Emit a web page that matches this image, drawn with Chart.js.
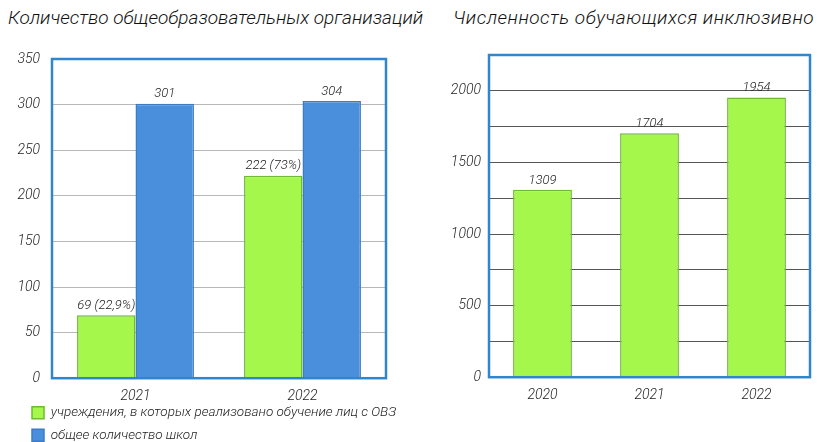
<!DOCTYPE html>
<html>
<head>
<meta charset="utf-8">
<script src="https://cdn.jsdelivr.net/npm/chart.js@4.4.1/dist/chart.umd.min.js"></script>
<style>
  body { margin: 0; background: #fff; width: 817px; height: 442px; overflow: hidden; position: relative; }
  .title { position: absolute; top: 6px; font-family: Roboto, sans-serif; font-style: italic; font-weight: 300; font-size: 19px; color: #111; white-space: nowrap; }
  #c1 { position: absolute; left: 0; top: 0; }
  #c2 { position: absolute; left: 430px; top: 0; }
</style>
</head>
<body>
<div class="title" style="left:8px">Количество общеобразовательных организаций</div>
<div class="title" style="left:453px; letter-spacing:0.5px">Численность обучающихся инклюзивно</div>
<canvas id="c1" width="400" height="442"></canvas>
<canvas id="c2" width="387" height="442"></canvas>
<script>
// данные
const years1 = ['2021', '2022'];
const ovzSchools = [69, 222];
const allSchools = [301, 304];
const ovzLabels = ['69 (22,9%)', '222 (73%)'];
const allLabels = ['301', '304'];

const years2 = ['2020', '2021', '2022'];
const inclusive = [1309, 1704, 1954];
const inclusiveLabels = ['1309', '1704', '1954'];

const FONT = 'Roboto, sans-serif';
const GREEN = '#a6f74c', GREEN_B = '#6cbc2e';
const BLUE = '#4a8fdb', BLUE_B = '#3b7cca';

// подписи над столбцами + рамка области графика
const barLabels = {
  id: 'barLabels',
  afterDatasetsDraw(chart) {
    const ctx = chart.ctx;
    ctx.save();
    ctx.font = 'italic 300 13px ' + FONT;
    ctx.fillStyle = '#222';
    ctx.textAlign = 'center';
    ctx.textBaseline = 'bottom';
    chart.data.datasets.forEach((ds, i) => {
      chart.getDatasetMeta(i).data.forEach((bar, j) => {
        ctx.fillText(ds.valueLabels[j], bar.x, bar.y - 3);
      });
    });
    const a = chart.chartArea;
    ctx.strokeStyle = '#2f86cc';
    ctx.lineWidth = 2.5;
    ctx.strokeRect(a.left, a.top, a.right - a.left, a.bottom - a.top);
    ctx.restore();
  }
};

// сдвиг легенды (вправо и вверх), как на картинке
const legendShift = {
  id: 'legendShift',
  afterLayout(chart) {
    const lg = chart.legend;
    if (lg) {
      lg.left += 23;
      lg.right += 23;
      lg.top -= 10;
      lg.bottom -= 10;
    }
  }
};

const tickFont = { family: FONT, style: 'italic', weight: 300, size: 14 };

new Chart(document.getElementById('c1'), {
  type: 'bar',
  data: {
    labels: years1,
    datasets: [{
      label: 'учреждения, в которых реализовано обучение лиц с ОВЗ',
      data: ovzSchools,
      valueLabels: ovzLabels,
      backgroundColor: GREEN,
      borderColor: GREEN_B,
      borderWidth: 1.5,
      categoryPercentage: 0.7,
      barPercentage: 1.0
    }, {
      label: 'общее количество школ',
      data: allSchools,
      valueLabels: allLabels,
      backgroundColor: BLUE,
      borderColor: BLUE_B,
      borderWidth: 1.5,
      categoryPercentage: 0.7,
      barPercentage: 1.0
    }]
  },
  options: {
    responsive: false,
    animation: false,
    layout: { padding: { top: 59, left: 0, right: 14, bottom: -20 } },
    plugins: {
      title: { display: false },
      tooltip: { enabled: false },
      legend: {
        position: 'bottom',
        align: 'start',
        labels: {
          boxWidth: 12, boxHeight: 12, padding: 9, color: '#222',
          font: { family: FONT, style: 'italic', weight: 300, size: 13.5 }
        }
      }
    },
    scales: {
      x: {
        grid: { display: false },
        border: { display: false },
        ticks: { color: '#222', font: tickFont, padding: 2 }
      },
      y: {
        min: 0, max: 350,
        afterFit(s) { s.width = 52; },
        border: { display: false },
        grid: { color: '#b8b8b8', drawTicks: false },
        ticks: { stepSize: 50, color: '#222', font: tickFont, padding: 12 }
      }
    }
  },
  plugins: [barLabels, legendShift]
});

new Chart(document.getElementById('c2'), {
  type: 'bar',
  data: {
    labels: years2,
    datasets: [{
      label: 'Численность обучающихся инклюзивно',
      data: inclusive,
      valueLabels: inclusiveLabels,
      backgroundColor: GREEN,
      borderColor: GREEN_B,
      borderWidth: 1.5,
      categoryPercentage: 0.55,
      barPercentage: 1.0
    }]
  },
  options: {
    responsive: false,
    animation: false,
    layout: { padding: { top: 55, left: 0, right: 7, bottom: 36 } },
    plugins: {
      legend: { display: false },
      tooltip: { enabled: false }
    },
    scales: {
      x: {
        grid: { display: false },
        border: { display: false },
        ticks: { color: '#222', font: tickFont, padding: 2 }
      },
      y: {
        min: 0, max: 2250,
        afterFit(s) { s.width = 59; },
        border: { display: false },
        grid: { color: '#555', drawTicks: false },
        ticks: {
          stepSize: 250, color: '#222', font: tickFont, padding: 8,
          callback: v => (v % 500 === 0 ? v : '')
        }
      }
    }
  },
  plugins: [barLabels]
});
</script>
</body>
</html>
